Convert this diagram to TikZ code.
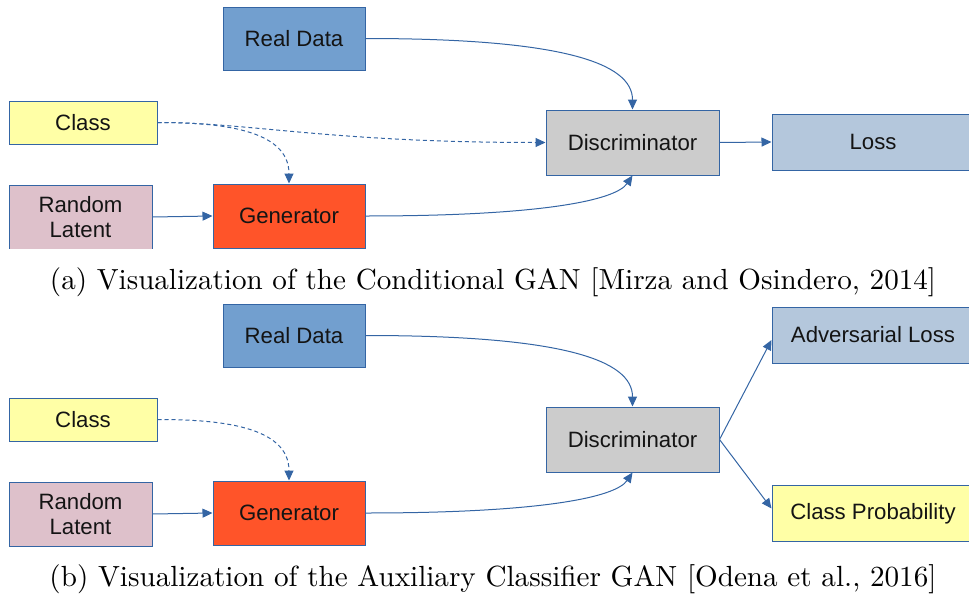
\documentclass[tikz,border=0pt]{standalone}
\usepackage{fontspec}
\usepackage{graphicx}
\usetikzlibrary{arrows.meta}
\newfontfamily\boxfont{Liberation Sans}

\definecolor{edgeblue}{HTML}{3465A4}
\definecolor{realfill}{HTML}{729FCF}
\definecolor{classfill}{HTML}{FFFFA6}
\definecolor{latentfill}{HTML}{DEC1CB}
\definecolor{genfill}{HTML}{FF5429}
\definecolor{discfill}{HTML}{CCCCCC}
\definecolor{lossfill}{HTML}{B4C7DC}

\tikzset{
  blk/.style={draw=edgeblue, line width=1pt, inner sep=0pt, align=center,
    font=\boxfont\fontsize{22.2}{25}\selectfont, text=black!92},
  conn/.style={draw=edgeblue, line width=1pt, -{Triangle[length=10pt,width=9pt]}},
  dconn/.style={conn, dash pattern=on 4pt off 3pt},
  caption/.style={inner sep=0pt, text=black}
}

\begin{document}
\begin{tikzpicture}[x=1pt, y=-1pt]
\useasboundingbox (0,0) rectangle (969,597);

% ---------- (a) Conditional GAN ----------
\begin{scope}
  \clip (0,0) rectangle (969,248);
  \node[blk, fill=realfill, minimum width=142pt, minimum height=63pt] (realA) at (294,38.5) {Real Data};
  \node[blk, fill=classfill, minimum width=148pt, minimum height=43pt] (classA) at (83,122.5) {Class};
  \node[blk, fill=latentfill, minimum width=143pt, minimum height=64pt] (randA) at (80.5,217) {Random\\Latent};
  \node[blk, fill=genfill, minimum width=152pt, minimum height=64pt] (genA) at (289,216) {Generator};
  \node[blk, fill=discfill, minimum width=173pt, minimum height=65pt] (discA) at (632.5,142.5) {Discriminator};
  \node[blk, fill=lossfill, minimum width=202pt, minimum height=56pt] (lossA) at (873,142) {Loss};

  \draw[conn] (realA.east) .. controls +(195,0) and +(0,-47) .. (discA.north);
  \draw[dconn] (classA.east) .. controls +(60,0) and +(0,-55) .. (genA.north);
  \draw[dconn] (classA.east) .. controls +(93,0) and +(-216,0) .. (discA.west);
  \draw[conn] (randA.east) -- (genA.west);
  \draw[conn] (genA.east) .. controls +(175,0) and +(-17,25) .. (discA.south);
  \draw[conn] (discA.east) -- (lossA.west);
\end{scope}

\node[caption] (capA) at (493,282)
  {\resizebox{886pt}{!}{(a) Visualization of the Conditional GAN [Mirza and Osindero, 2014]}};

% ---------- (b) Auxiliary Classifier GAN ----------
\begin{scope}
  \clip (0,297) rectangle (969,546);
  \node[blk, fill=realfill, minimum width=142pt, minimum height=63pt] (realB) at (294,335.5) {Real Data};
  \node[blk, fill=classfill, minimum width=148pt, minimum height=43pt] (classB) at (83,419.5) {Class};
  \node[blk, fill=latentfill, minimum width=143pt, minimum height=64pt] (randB) at (80.5,514) {Random\\Latent};
  \node[blk, fill=genfill, minimum width=152pt, minimum height=64pt] (genB) at (289,513) {Generator};
  \node[blk, fill=discfill, minimum width=173pt, minimum height=65pt] (discB) at (632.5,439.5) {Discriminator};
  \node[blk, fill=lossfill, minimum width=202pt, minimum height=56pt] (advB) at (873,335) {Adversarial Loss};
  \node[blk, fill=classfill, minimum width=202pt, minimum height=56pt] (probB) at (873,513.5) {Class Probability};

  \draw[conn] (realB.east) .. controls +(195,0) and +(0,-47) .. (discB.north);
  \draw[dconn] (classB.east) .. controls +(60,0) and +(0,-55) .. (genB.north);
  \draw[conn] (randB.east) -- (genB.west);
  \draw[conn] (genB.east) .. controls +(175,0) and +(-17,25) .. (discB.south);
  \draw[conn] (discB.east) -- ([yshift=-5pt]advB.west);
  \draw[conn] (discB.east) -- ([yshift=5pt]probB.west);
\end{scope}

\node[caption] (capB) at (493,579)
  {\resizebox{887pt}{!}{(b) Visualization of the Auxiliary Classifier GAN [Odena et al., 2016]}};
\end{tikzpicture}
\end{document}
